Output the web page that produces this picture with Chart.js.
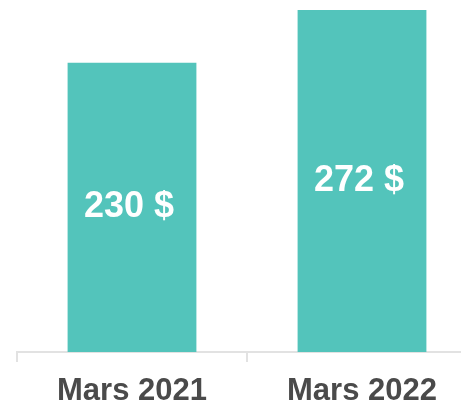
<!DOCTYPE html>
<html>
<head>
<meta charset="utf-8">
<script src="https://cdn.jsdelivr.net/npm/chart.js@4"></script>
<style>
  html, body { margin: 0; padding: 0; background: #ffffff; overflow: hidden; }
  #wrap { width: 480px; height: 405px; overflow: hidden; }
</style>
</head>
<body>
<div id="wrap"><canvas id="c" width="480" height="421"></canvas></div>
<script>
const categories = ["Mars 2021", "Mars 2022"];
const values = [230, 272];
const valueLabels = ["230 $", "272 $"];

const barLabelPlugin = {
  id: 'barLabels',
  afterDatasetsDraw(chart) {
    const ctx = chart.ctx;
    const meta = chart.getDatasetMeta(0);
    ctx.save();
    ctx.fillStyle = '#ffffff';
    ctx.font = 'bold 36px "Liberation Sans", Arial, sans-serif';
    ctx.textAlign = 'center';
    ctx.textBaseline = 'middle';
    meta.data.forEach((bar, i) => {
      const y = (bar.y + bar.base) / 2;
      ctx.fillText(valueLabels[i], bar.x - 3, y);
    });
    ctx.restore();
  }
};

new Chart(document.getElementById('c'), {
  type: 'bar',
  data: {
    labels: categories,
    datasets: [{
      data: values,
      backgroundColor: '#53c4bb',
      borderWidth: 0,
      barPercentage: 0.56,
      categoryPercentage: 1.0
    }]
  },
  options: {
    responsive: false,
    animation: false,
    layout: { padding: { left: 17, right: 3, top: 0, bottom: 0 } },
    plugins: { legend: { display: false }, tooltip: { enabled: false } },
    scales: {
      y: { display: false, min: 0, max: 280 },
      x: {
        border: { display: true, color: '#e2e2e2', width: 2 },
        grid: { display: true, drawOnChartArea: false, drawTicks: true, tickLength: 10, color: '#e2e2e2', lineWidth: 2, offset: true },
        ticks: { color: '#4a4a4a', padding: 14, font: { family: '"Liberation Sans", Arial, sans-serif', size: 31, weight: 'bold', lineHeight: 1.0 } }
      }
    }
  },
  plugins: [barLabelPlugin]
});
</script>
</body>
</html>
